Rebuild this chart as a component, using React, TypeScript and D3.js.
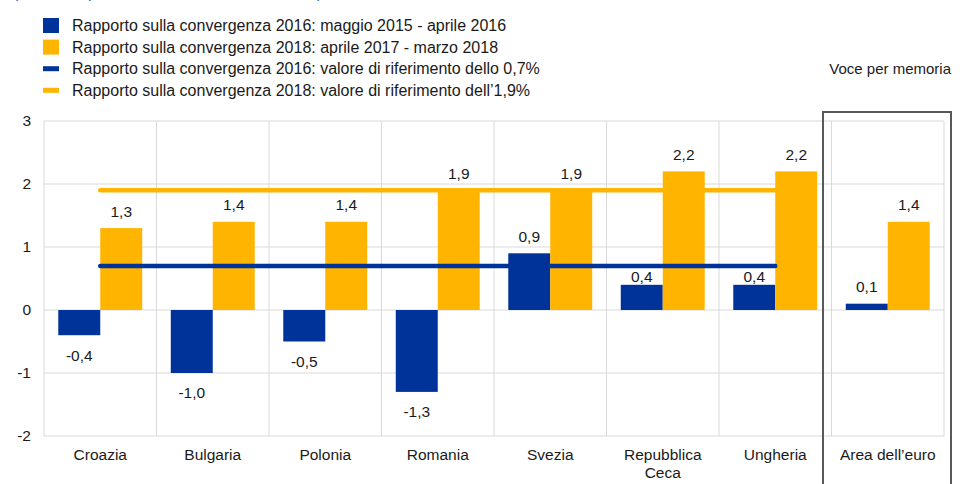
import React from 'react';
import * as d3 from 'd3';

// --- data ---
const categories = ['Croazia', 'Bulgaria', 'Polonia', 'Romania', 'Svezia', 'Repubblica\nCeca', 'Ungheria', 'Area dell\u2019euro'];
const values2016 = [-0.4, -1.0, -0.5, -1.3, 0.9, 0.4, 0.4, 0.1];
const values2018 = [1.3, 1.4, 1.4, 1.9, 1.9, 2.2, 2.2, 1.4];
// reference values only for the seven countries (not the euro area)
const ref2016 = [0.7, 0.7, 0.7, 0.7, 0.7, 0.7, 0.7];
const ref2018 = [1.9, 1.9, 1.9, 1.9, 1.9, 1.9, 1.9];
const yTicks = [-2, -1, 0, 1, 2, 3];
const legendLabels = [
  'Rapporto sulla convergenza 2016: maggio 2015 - aprile 2016',
  'Rapporto sulla convergenza 2018: aprile 2017 - marzo 2018',
  'Rapporto sulla convergenza 2016: valore di riferimento dello 0,7%',
  'Rapporto sulla convergenza 2018: valore di riferimento dell\u20191,9%',
];

const BLUE = '#003399';
const YELLOW = '#FFB400';
const GRID = '#d9d9d9';
const TEXT = '#1a1a1a';
const FONT = '"Liberation Sans", Arial, sans-serif';
const FS = 15.5;

const W = 962;
const H = 484;
const margin = { top: 121, right: 18, bottom: 48, left: 44 };

const fmt = (v: number) => v.toFixed(1).replace('.', ',');

export default function App() {
  const x = d3.scaleBand<string>()
    .domain(categories)
    .range([margin.left, W - margin.right])
    .paddingInner(0)
    .paddingOuter(0);

  const inner = d3.scaleBand<string>()
    .domain(['2016', '2018'])
    .range([0, x.bandwidth()])
    .paddingInner(0)
    .paddingOuter(0.34);

  const y = d3.scaleLinear().domain([-2, 3]).range([H - margin.bottom, margin.top]);

  const cx = (i: number) => (x(categories[i]) as number) + x.bandwidth() / 2;

  const line = d3.line<number>()
    .x((_, i) => cx(i))
    .y(d => y(d));

  const boundaries = d3.range(categories.length + 1).map(i => margin.left + i * x.step());

  const series = [
    { key: '2016', values: values2016, color: BLUE },
    { key: '2018', values: values2018, color: YELLOW },
  ];

  // place a label above/below its bar; nudge it under a reference line it would sit on
  const labelY = (v: number, i: number) => {
    if (v < 0) return y(v) + 20;
    let ly = y(v) - 17;
    const refs = [ref2016[i], ref2018[i]].filter(r => r !== undefined).map(r => y(r));
    for (const ry of refs) {
      if (Math.abs(ly - ry) < 7 && ry < y(v)) ly = (ry + y(v)) / 2 + 1;
    }
    return ly;
  };

  return (
    <svg width={W} height={H} style={{ position: 'absolute', left: 0, top: 0, fontFamily: FONT }}>
      <rect width={W} height={H} fill="#fff" />

      {/* cut-off subtitle at the very top */}
      <text x={13} y={-2} fontSize={FS} fill="#3355bb">(variazioni percentuali, medie su dodici mesi)</text>

      {/* legend */}
      {legendLabels.map((lab, i) => {
        const cy = 25.5 + i * 21.6;
        const color = i % 2 === 0 ? BLUE : YELLOW;
        return (
          <g key={lab}>
            {i < 2
              ? <rect x={43} y={cy - 7.5} width={16} height={15} fill={color} />
              : <rect x={43} y={cy - 2.5} width={16} height={5} fill={color} />}
            <text x={72} y={cy} dy="0.35em" fontSize={16} fill={TEXT}>{lab}</text>
          </g>
        );
      })}
      <text x={951} y={69} dy="0.35em" fontSize={15} fill={TEXT} textAnchor="end">Voce per memoria</text>

      {/* grid */}
      {yTicks.map(t => (
        <line key={t} x1={margin.left} x2={W - margin.right} y1={y(t)} y2={y(t)} stroke={GRID} strokeWidth={1} />
      ))}
      {boundaries.map((bx, i) => (
        <line key={i} x1={bx} x2={bx} y1={y(3)} y2={y(-2)} stroke={GRID} strokeWidth={1} />
      ))}

      {/* y axis labels */}
      {yTicks.map(t => (
        <text key={t} x={31} y={y(t)} dy="0.35em" fontSize={FS} fill={TEXT} textAnchor="end">{t}</text>
      ))}

      {/* bars */}
      {series.map(s => s.values.map((v, i) => {
        const bx = (x(categories[i]) as number) + (inner(s.key) as number);
        return (
          <rect key={s.key + i} x={bx} width={inner.bandwidth()}
            y={y(Math.max(0, v))} height={Math.abs(y(v) - y(0))} fill={s.color} />
        );
      }))}

      {/* reference lines */}
      <path d={line(ref2018) ?? ''} fill="none" stroke={YELLOW} strokeWidth={4.5} strokeLinecap="round" />
      <path d={line(ref2016) ?? ''} fill="none" stroke={BLUE} strokeWidth={4.5} strokeLinecap="round" />

      {/* data labels */}
      {series.map(s => s.values.map((v, i) => {
        const bx = (x(categories[i]) as number) + (inner(s.key) as number) + inner.bandwidth() / 2;
        return (
          <text key={'l' + s.key + i} x={bx} y={labelY(v, i)} dy="0.35em" fontSize={FS} fill={TEXT} textAnchor="middle">{fmt(v)}</text>
        );
      }))}

      {/* category labels */}
      {categories.map((c, i) => (
        <text key={c} x={cx(i)} y={455} fontSize={FS} fill={TEXT} textAnchor="middle">
          {c.split('\n').map((part, j) => (
            <tspan key={j} x={cx(i)} dy={j === 0 ? '0.35em' : 17.5}>{part}</tspan>
          ))}
        </text>
      ))}

      {/* memo box */}
      <path d={`M823,${H + 2} V112 H951 V${H + 2}`} fill="none" stroke="#595959" strokeWidth={2} />
    </svg>
  );
}
